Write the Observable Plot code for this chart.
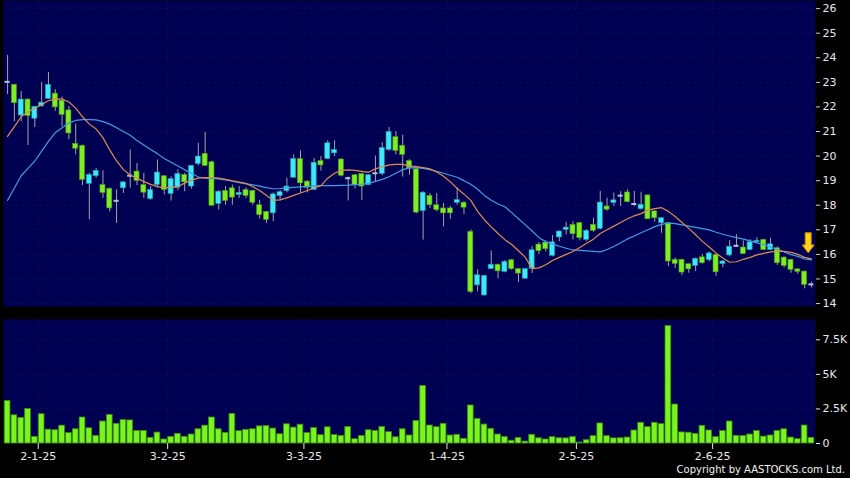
<!DOCTYPE html>
<html><head><meta charset="utf-8">
<script src="https://cdn.jsdelivr.net/npm/d3@7"></script>
<script src="https://cdn.jsdelivr.net/npm/@observablehq/plot@0.6"></script>
<style>
html,body{margin:0;padding:0;background:#000;width:850px;height:478px;overflow:hidden;font-family:"DejaVu Sans",sans-serif}
#price{position:absolute;left:0;top:0}
#vol{position:absolute;left:0;top:319px}
#copy{position:absolute;right:5px;top:464px;color:#f2f2f2;font-size:10px;font-family:"DejaVu Sans",sans-serif}
</style></head>
<body>
<div id="price"></div><div id="vol"></div>
<div id="copy">Copyright by AASTOCKS.com Ltd.</div>
<script>
// ---- data (index 0 = 23-12-24 ... index 118 = 20-6-25) ----
const open = [22.98,22.9,21.65,22.3,21.52,22.02,22.33,22.54,22.25,21.86,
20.5,20.42,18.87,19.18,18.82,18.67,18.18,18.69,19.2,19.37,
18.82,18.25,18.82,19.18,18.46,18.71,19.23,18.76,19.68,20.09,
19.75,18.05,18.58,18.69,18.42,18.62,18.58,18.0,17.73,17.67,
18.37,18.58,19.12,19.88,18.96,18.62,19.8,19.88,20.11,19.86,
19.12,19.22,19.27,18.82,19.3,19.28,20.25,20.77,20.42,19.8,
19.46,17.76,18.38,18.0,17.87,17.87,18.1,18.1,16.92,14.74,
14.33,15.4,15.58,15.29,15.76,15.4,15.01,15.42,16.4,16.48,
15.94,16.69,17.0,17.2,17.27,16.59,17.2,17.04,17.95,18.09,
18.35,18.52,18.05,17.84,18.4,17.75,17.27,17.27,15.78,15.78,
15.6,15.53,15.88,15.77,15.98,15.61,15.96,16.33,16.28,16.18,
16.49,16.59,16.18,16.25,15.87,15.78,15.39,15.3,14.78];
const high = [24.1,22.92,22.63,22.32,22.02,22.99,23.4,22.7,22.4,22.02,
21.3,20.45,19.3,19.5,19.4,18.7,18.63,18.95,20.25,19.7,
19.3,18.76,19.84,19.2,19.16,19.44,19.3,19.6,20.52,20.96,
19.8,18.6,18.76,18.82,18.76,18.7,18.6,18.2,17.75,18.5,
18.6,19.1,20.05,20.21,19.0,19.9,19.98,20.62,20.62,19.9,
19.15,19.25,19.3,19.25,20.0,20.54,21.16,21.0,20.85,19.85,
19.5,18.55,18.48,18.47,18.07,17.95,18.71,18.15,16.99,15.38,
15.15,16.14,15.6,15.75,15.8,15.42,15.42,16.31,16.48,16.55,
16.77,16.95,17.31,17.33,17.3,17.0,17.47,18.56,18.29,18.5,
18.55,18.63,18.56,18.53,18.42,17.78,17.5,17.3,15.85,15.8,
15.62,15.85,16.0,16.1,16.0,15.75,16.56,16.8,16.55,16.6,
16.68,16.62,16.66,16.3,15.9,15.8,15.42,15.32,14.87];
const low = [22.5,21.4,21.4,20.43,21.16,22.0,22.3,21.82,21.2,20.66,
20.05,18.8,17.4,19.1,18.28,17.73,17.26,18.48,18.7,18.8,
18.28,18.2,18.69,18.42,18.17,18.6,18.55,18.66,19.6,19.58,
17.95,17.8,18.0,18.0,18.28,18.28,18.0,17.44,17.26,17.33,
18.17,18.5,19.1,18.5,18.5,18.6,19.39,19.85,19.98,19.15,
18.17,18.66,18.2,18.8,18.96,19.2,20.2,20.05,19.15,19.23,
17.65,16.58,17.87,17.73,17.12,17.44,18.0,17.62,14.4,14.47,
14.3,15.38,15.01,15.25,15.35,14.85,15.0,15.22,16.0,16.1,
15.9,16.52,16.8,16.59,16.55,16.52,16.9,17.0,17.75,17.95,
17.95,18.1,17.95,17.8,17.43,17.31,16.86,15.5,15.43,15.14,
15.23,15.3,15.6,15.7,15.1,15.46,15.9,16.28,16.0,16.15,
16.45,16.15,16.15,15.55,15.45,15.23,15.19,14.6,14.63];
const close = [23.02,22.15,22.3,21.63,22.0,22.17,22.9,21.98,21.68,20.92,
20.3,19.03,19.23,19.4,18.5,17.87,18.18,18.93,19.2,18.99,
18.51,18.62,19.33,18.62,19.06,19.27,18.93,19.6,19.98,19.6,
17.98,18.55,18.17,18.31,18.5,18.38,18.1,17.6,17.4,18.44,
18.53,18.76,19.88,18.89,18.71,19.73,19.62,20.52,20.25,19.2,
19.1,18.82,18.76,19.22,19.3,20.33,20.98,20.21,20.05,19.5,
17.7,18.51,18.0,17.8,17.67,17.67,18.21,17.9,14.47,15.15,
15.12,15.58,15.31,15.69,15.4,15.22,15.4,16.17,16.13,16.21,
16.49,16.93,17.09,16.82,16.66,16.96,16.96,18.11,17.82,18.2,
18.39,18.13,18.05,18.02,17.43,17.47,17.47,15.71,15.61,15.26,
15.39,15.82,15.64,16.04,15.27,15.71,16.31,16.35,16.01,16.49,
16.55,16.18,16.41,15.64,15.53,15.37,15.29,14.76,14.78];
// volume in thousands
const volume = [3.08,2.04,1.85,2.5,0.48,2.12,1.0,0.96,1.29,0.75,
1.03,1.88,1.1,0.55,1.59,2.07,1.42,1.69,1.67,0.91,
0.91,0.41,0.79,0.29,0.48,0.7,0.48,0.65,1.03,1.29,
1.88,1.03,0.77,2.14,0.89,0.99,1.03,1.24,1.26,1.08,
0.67,1.39,1.15,1.36,0.75,1.12,0.6,1.17,0.62,0.55,
1.2,0.31,0.55,0.96,0.91,1.2,0.82,0.45,1.03,0.58,
1.63,4.16,1.3,1.18,1.42,0.58,0.63,0.34,2.75,1.78,
1.37,1.06,0.65,0.46,0.2,0.41,0.14,0.63,0.38,0.29,
0.46,0.38,0.37,0.46,0.07,0.24,0.53,1.45,0.53,0.37,
0.38,0.43,0.94,1.5,1.18,1.5,1.4,8.5,2.82,0.8,
0.78,0.7,1.28,0.94,0.46,0.9,1.59,0.55,0.55,0.65,
0.9,0.5,0.58,0.9,1.03,0.43,0.31,1.3,0.41];
const ma10 = [20.8,21.2,21.6,21.8,21.95,22.1,22.25,22.33,22.32,22.2,
21.95,21.6,21.3,21.1,20.75,20.25,19.8,19.45,19.23,19.1,
18.96,18.85,18.76,18.72,18.72,18.76,18.9,19.02,19.1,19.12,
19.12,19.1,19.05,18.99,18.94,18.89,18.75,18.6,18.4,18.2,
18.22,18.3,18.4,18.5,18.6,18.7,18.8,19.1,19.3,19.42,
19.44,19.42,19.38,19.34,19.48,19.56,19.64,19.66,19.66,19.6,
19.57,19.53,19.48,19.35,19.18,18.95,18.68,18.45,18.2,17.75,
17.4,17.12,16.85,16.6,16.4,16.15,15.88,15.42,15.45,15.58,
15.75,15.88,16.0,16.12,16.28,16.45,16.62,16.85,17.0,17.15,
17.3,17.45,17.57,17.66,17.8,17.86,17.9,17.75,17.54,17.3,
17.06,16.8,16.53,16.3,16.05,15.85,15.68,15.7,15.8,15.88,
15.98,16.04,16.1,16.12,16.12,16.08,16.0,15.88,15.82];
const ma20 = [18.2,18.7,19.2,19.5,19.8,20.2,20.6,20.95,21.15,21.35,
21.45,21.48,21.48,21.47,21.4,21.3,21.15,21.0,20.85,20.63,
20.45,20.27,20.1,19.9,19.75,19.6,19.44,19.3,19.15,19.1,
19.08,19.07,19.03,18.98,18.92,18.87,18.83,18.78,18.72,18.67,
18.68,18.71,18.73,18.75,18.77,18.79,18.8,18.8,18.8,18.81,
18.82,18.84,18.86,18.89,18.97,19.05,19.16,19.3,19.45,19.52,
19.53,19.5,19.45,19.38,19.3,19.22,19.14,19.0,18.85,18.65,
18.4,18.2,18.05,17.94,17.7,17.45,17.2,16.95,16.68,16.52,
16.42,16.33,16.25,16.18,16.16,16.14,16.12,16.1,16.2,16.32,
16.47,16.63,16.75,16.88,17.0,17.13,17.22,17.27,17.25,17.2,
17.15,17.1,17.05,17.0,16.9,16.82,16.75,16.68,16.62,16.55,
16.47,16.4,16.3,16.2,16.1,15.99,15.92,15.82,15.78];
const monthStartIndex = [5, 24, 44, 65, 84, 104];
const monthLabels = ["2-1-25", "3-2-25", "3-3-25", "1-4-25", "2-5-25", "2-6-25"];
const priceTicks = [14,15,16,17,18,19,20,21,22,23,24,25,26];
const volTicks = [0, 2.5, 5, 7.5];
const volTickLabels = ["0", "2.5K", "5K", "7.5K"];
const arrowAnno = {i: 117.6, top: 16.86, tip: 16.04};

// ---- build table ----
const data = open.map((o, i) => ({
  i, open: o, high: high[i], low: low[i], close: close[i], vol: volume[i], ma10: ma10[i], ma20: ma20[i],
  kind: Math.abs(close[i] - o) < 0.05 ? "doji" : (close[i] > o ? "up" : "down")
}));
const bodies = data.filter(d => d.kind !== "doji");
const dojis = data.filter(d => d.kind === "doji");
const monthGrid = monthStartIndex.map(i => i - 0.5);

const NAVY = "#000052";
const GRID = {stroke: "#6b6ba6", strokeDasharray: "3,3", strokeWidth: 1};
const UP = "#3ee9f7", DOWN = "#7ded24";
const FONT = {background: "transparent", color: "#e8e8e8", fontSize: "11px", fontFamily: "DejaVu Sans, sans-serif"};
const xScale = {domain: [-0.6, 118.6], axis: null};

function arrowMark(index, scales) {
  const cx = scales.x(arrowAnno.i), y0 = scales.y(arrowAnno.top), y1 = scales.y(arrowAnno.tip);
  const w = 3, hw = 6, hh = 8;
  const d = `M${cx-w},${y0}L${cx+w},${y0}L${cx+w},${y1-hh}L${cx+hw},${y1-hh}L${cx},${y1}L${cx-hw},${y1-hh}L${cx-w},${y1-hh}Z`;
  return d3.create("svg:path").attr("d", d).attr("fill", "#ffd21a").attr("stroke", "#c98a00").attr("stroke-width", 1).node();
}

const price = Plot.plot({
  width: 850, height: 312, marginLeft: 3, marginRight: 35, marginTop: 0, marginBottom: 6,
  style: FONT,
  x: xScale,
  y: {domain: [13.88, 26.33], axis: null},
  marks: [
    Plot.frame({fill: NAVY}),
    Plot.gridY(priceTicks, GRID),
    Plot.gridX(monthGrid, GRID),
    Plot.ruleX(data, {x: "i", y1: "low", y2: "high", stroke: "#a4a4a4", strokeWidth: 1}),
    Plot.rect(bodies, {x1: d => d.i - 0.37, x2: d => d.i + 0.37, y1: "open", y2: "close",
      fill: d => d.kind === "up" ? UP : DOWN, stroke: d => d.kind === "up" ? "#1d9fb0" : "#4c9c12", strokeWidth: 0.6}),
    Plot.ruleY(dojis, {x1: d => d.i - 0.37, x2: d => d.i + 0.37, y: "close", stroke: "#a9c7d6", strokeWidth: 2}),
    Plot.line(data, {x: "i", y: "ma20", stroke: "#3d9de6", strokeWidth: 1.2}),
    Plot.line(data, {x: "i", y: "ma10", stroke: "#e08a50", strokeWidth: 1.2}),
    Plot.axisY(priceTicks, {anchor: "right", label: null, tickSize: 4, tickPadding: 3, stroke: "#cfcfcf"}),
    arrowMark
  ]
});
document.getElementById("price").append(price);

const vol = Plot.plot({
  width: 850, height: 159, marginLeft: 3, marginRight: 35, marginTop: 0, marginBottom: 35,
  style: FONT,
  x: xScale,
  y: {domain: [0, 8.97], axis: null},
  marks: [
    Plot.frame({fill: NAVY}),
    Plot.gridY(volTicks.slice(1), GRID),
    Plot.gridX(monthGrid, GRID),
    Plot.rectY(data, {x1: d => d.i - 0.42, x2: d => d.i + 0.42, y: "vol", fill: "#78f51e", stroke: "#3f8c0c", strokeWidth: 0.8}),
    Plot.axisY(volTicks, {anchor: "right", label: null, tickSize: 4, tickPadding: 3, tickFormat: d => volTickLabels[volTicks.indexOf(d)]}),
    Plot.axisX(monthGrid, {anchor: "bottom", label: null, tickSize: 6, tickPadding: 3, tickFormat: d => monthLabels[monthGrid.indexOf(d)]})
  ]
});
document.getElementById("vol").append(vol);
</script>
</body></html>
